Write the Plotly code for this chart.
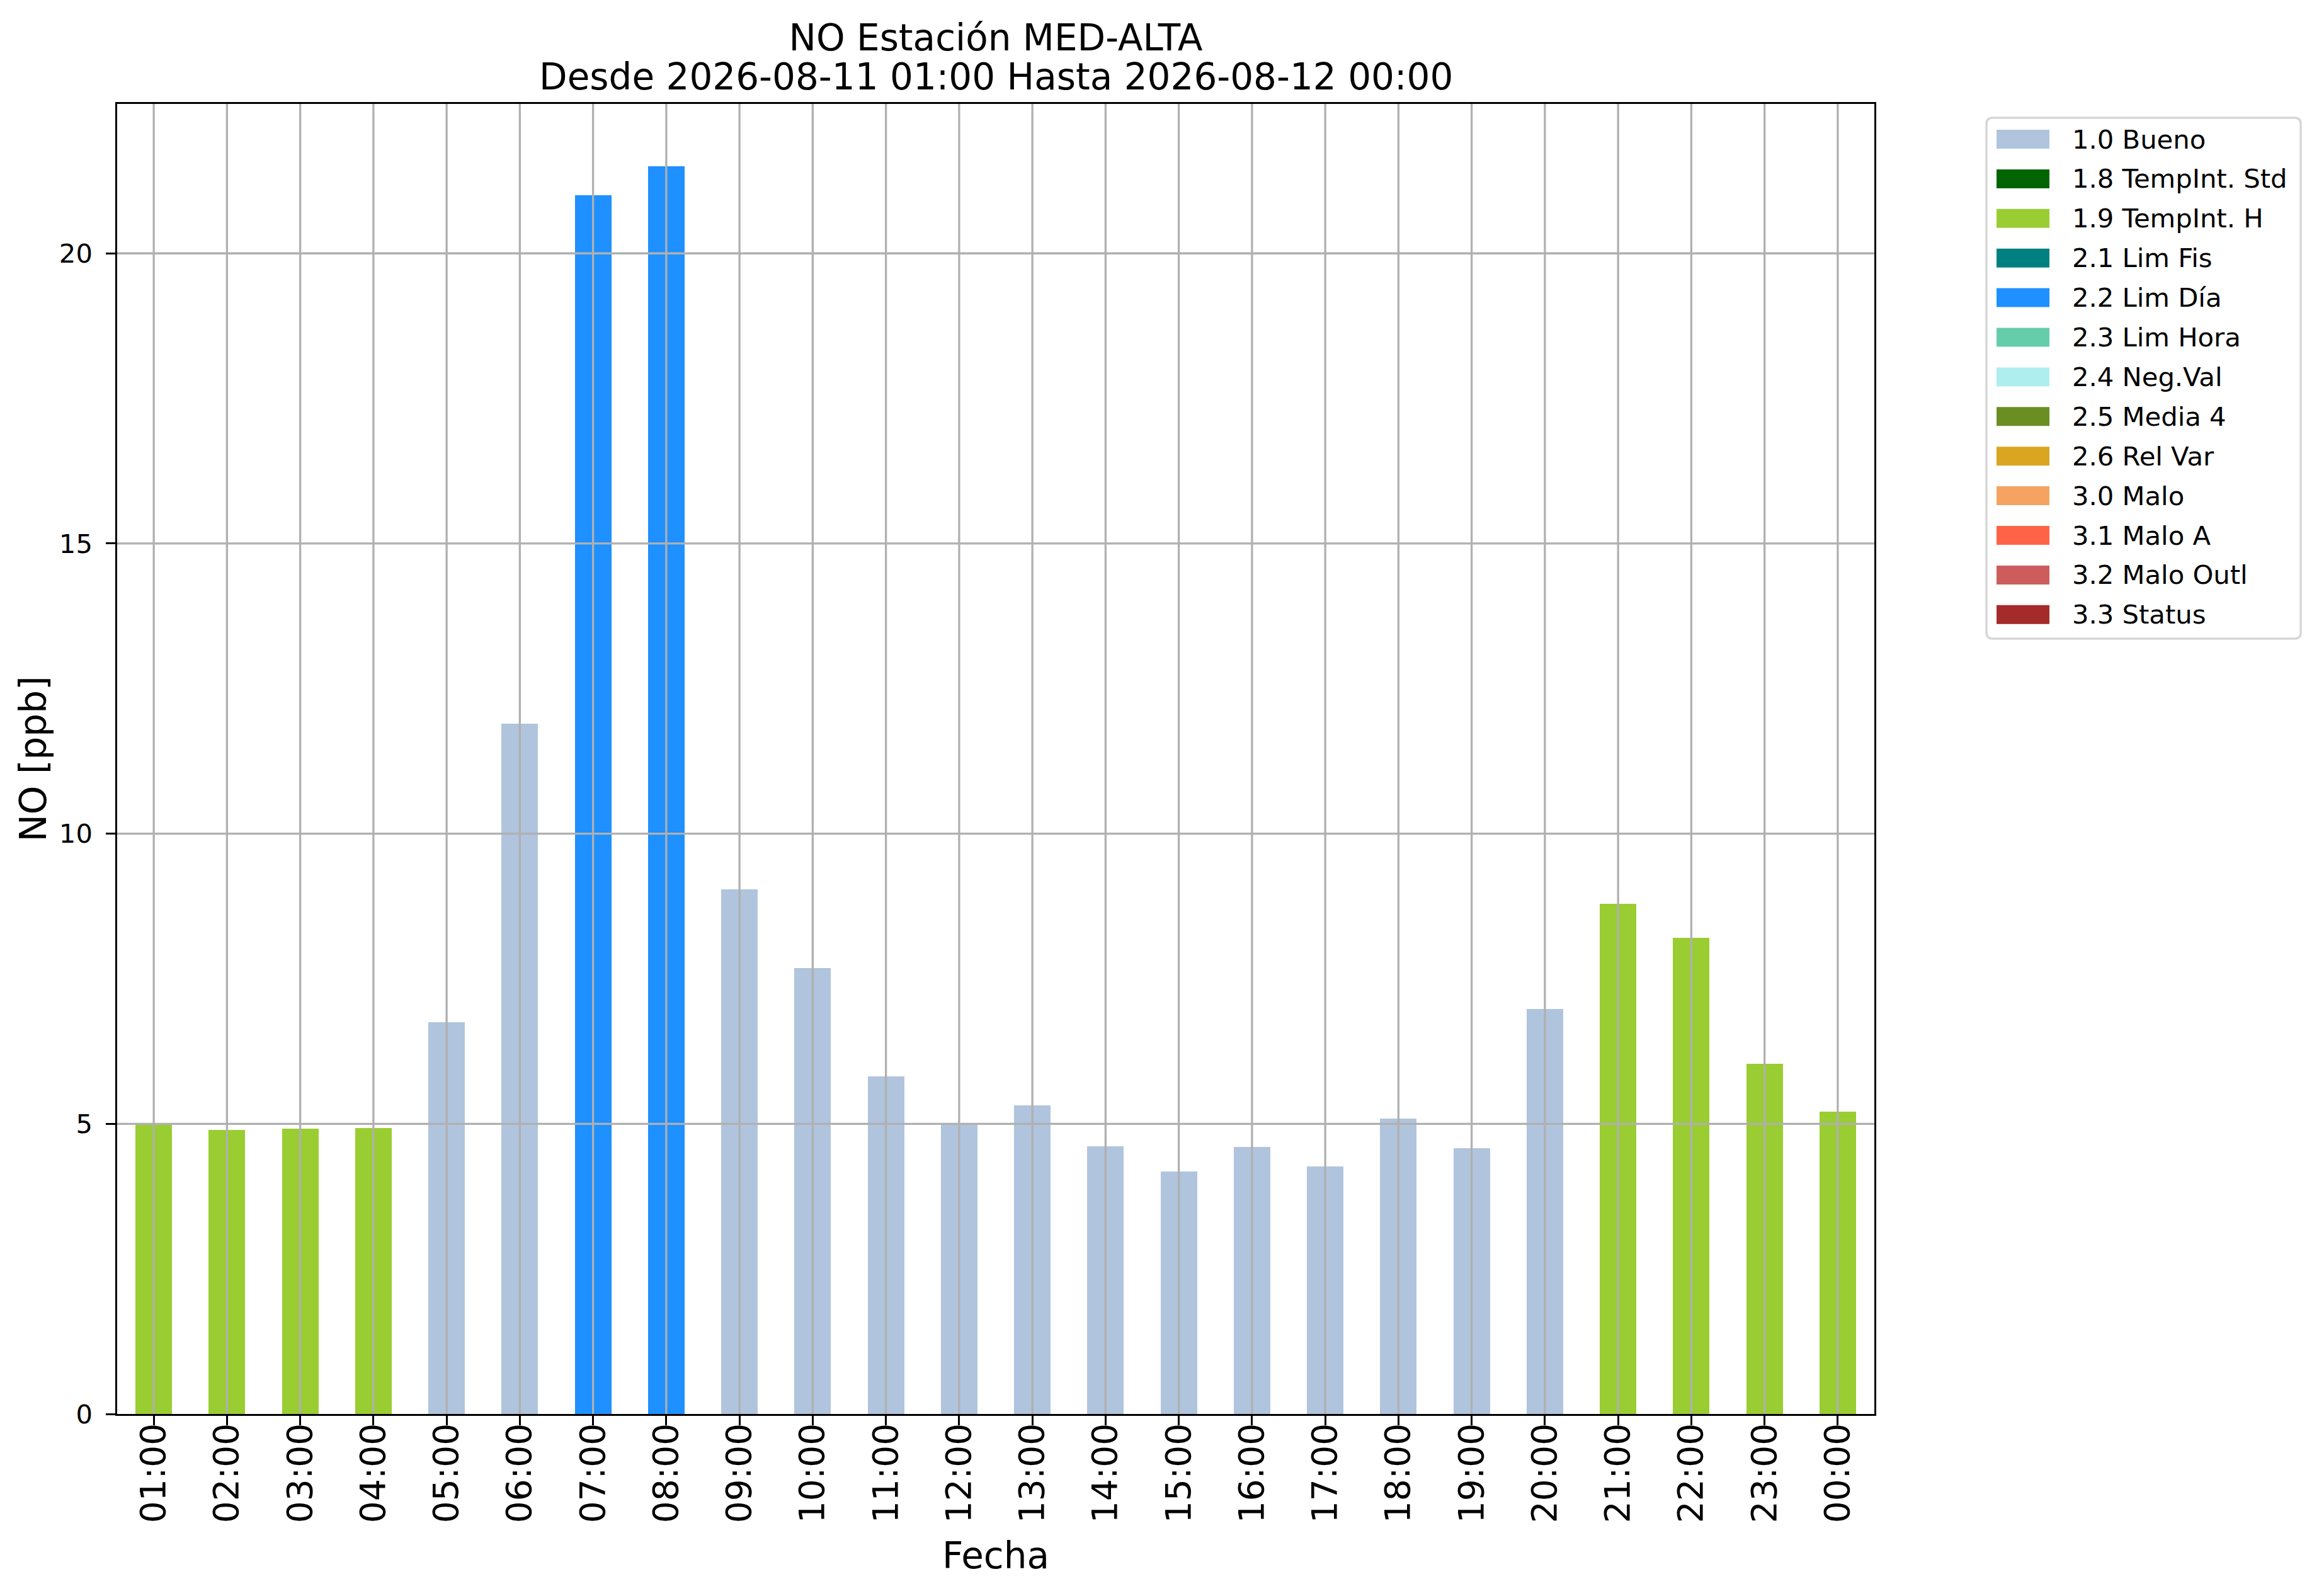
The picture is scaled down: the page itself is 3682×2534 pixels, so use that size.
import plotly.graph_objects as go

# ---------------- data ----------------
hours = ["01:00", "02:00", "03:00", "04:00", "05:00", "06:00", "07:00", "08:00",
         "09:00", "10:00", "11:00", "12:00", "13:00", "14:00", "15:00", "16:00",
         "17:00", "18:00", "19:00", "20:00", "21:00", "22:00", "23:00", "00:00"]
no_ppb = [5.00, 4.89, 4.92, 4.93, 6.75, 11.89, 21.0, 21.5,
          9.04, 7.68, 5.82, 5.00, 5.32, 4.61, 4.18, 4.60,
          4.27, 5.09, 4.58, 6.98, 8.79, 8.20, 6.03, 5.21]
flag_code = ["1.9", "1.9", "1.9", "1.9", "1.0", "1.0", "2.2", "2.2",
             "1.0", "1.0", "1.0", "1.0", "1.0", "1.0", "1.0", "1.0",
             "1.0", "1.0", "1.0", "1.0", "1.9", "1.9", "1.9", "1.9"]
cat_codes = ["1.0", "1.8", "1.9", "2.1", "2.2", "2.3", "2.4", "2.5", "2.6",
             "3.0", "3.1", "3.2", "3.3"]
cat_names = ["Bueno", "TempInt. Std", "TempInt. H", "Lim Fis", "Lim Día", "Lim Hora",
             "Neg.Val", "Media 4", "Rel Var", "Malo", "Malo A", "Malo Outl", "Status"]
cat_colors = ["#B0C4DE", "#006400", "#9ACD32", "#008080", "#1E90FF", "#66CDAA",
              "#AFEEEE", "#6B8E23", "#DAA520", "#F4A460", "#FF6347", "#CD5C5C", "#A52A2A"]
y_ticks = [0, 5, 10, 15, 20]

title_line1 = "NO Estación MED-ALTA"
title_line2 = "Desde 2026-08-11 01:00 Hasta 2026-08-12 00:00"

# ---------------- layout geometry (page pixels) ----------------
PAGE_W, PAGE_H = 3682, 2534
OFF = 8                      # default body margin of the html page
W, H = PAGE_W - 2 * OFF, PAGE_H - 2 * OFF
L, R, T, B = 186, 2976, 165, 2245
PW, PH = R - L, B - T
FONT = "DejaVu Sans"


def px(xp):
    return (xp - L) / PW


def py(yp):
    return (B - yp) / PH


fig = go.Figure()
for code, name, color in zip(cat_codes, cat_names, cat_colors):
    yvals = [v if f == code else 0 for v, f in zip(no_ppb, flag_code)]
    fig.add_trace(go.Bar(
        x=hours, y=yvals, name=f"{code} {name}",
        marker=dict(color=color, line=dict(width=0)),
        width=0.5, showlegend=False,
    ))

shapes = []
# grid lines drawn above the bars (as in the reference)
for i in range(len(hours)):
    shapes.append(dict(type="line", xref="x", yref="paper", x0=i, x1=i, y0=0, y1=1,
                       line=dict(color="#b0b0b0", width=3.3), layer="above"))
for t in y_ticks[1:]:
    shapes.append(dict(type="line", xref="paper", yref="y", x0=0, x1=1, y0=t, y1=t,
                       line=dict(color="#b0b0b0", width=3.3), layer="above"))

# custom legend (matplotlib style)
lx0, lx1, ly0, ly1 = 3154, 3653, 187, 1014
rr = 10
path = (f"M {px(lx0 + rr)},{py(ly0)} L {px(lx1 - rr)},{py(ly0)} "
        f"Q {px(lx1)},{py(ly0)} {px(lx1)},{py(ly0 + rr)} "
        f"L {px(lx1)},{py(ly1 - rr)} Q {px(lx1)},{py(ly1)} {px(lx1 - rr)},{py(ly1)} "
        f"L {px(lx0 + rr)},{py(ly1)} Q {px(lx0)},{py(ly1)} {px(lx0)},{py(ly1 - rr)} "
        f"L {px(lx0)},{py(ly0 + rr)} Q {px(lx0)},{py(ly0)} {px(lx0 + rr)},{py(ly0)} Z")
shapes.append(dict(type="path", xref="paper", yref="paper", path=path,
                   line=dict(color="#d6d6d6", width=3.5), fillcolor="white", layer="above"))

annotations = []
for k, (code, name, color) in enumerate(zip(cat_codes, cat_names, cat_colors)):
    cy = 221 + k * 62.9
    shapes.append(dict(type="rect", xref="paper", yref="paper",
                       x0=px(3170), x1=px(3254), y0=py(cy - 15), y1=py(cy + 15),
                       fillcolor=color, line=dict(width=0), layer="above"))
    annotations.append(dict(xref="paper", yref="paper", x=px(3288), y=py(cy),
                            xanchor="left", yanchor="middle", showarrow=False,
                            text=f"{code} {name}",
                            font=dict(family=FONT, size=41.7, color="black")))

# second title line
annotations.append(dict(xref="paper", yref="paper", x=0.5, y=py(122),
                        xanchor="center", yanchor="middle", showarrow=False,
                        text=title_line2, font=dict(family=FONT, size=58, color="black")))

fig.update_layout(
    width=W, height=H,
    margin=dict(l=L - OFF, r=W - (R - OFF), t=T - OFF, b=H - (B - OFF), autoexpand=False),
    paper_bgcolor="white", plot_bgcolor="white",
    barmode="stack", bargap=0,
    font=dict(family=FONT, color="black"),
    title=dict(text=title_line1, x=0.5, xref="paper", xanchor="center",
               y=1 - (59.5 - OFF) / H, yref="container", yanchor="middle",
               font=dict(family=FONT, size=58, color="black")),
    shapes=shapes, annotations=annotations,
    showlegend=False,
)
fig.update_xaxes(
    type="category", range=[-0.5, len(hours) - 0.5],
    showgrid=False, showline=True, linecolor="black", linewidth=3.3, mirror=True,
    ticks="outside", ticklen=14.6, tickwidth=3.3, tickcolor="black",
    tickangle=-90, tickfont=dict(family=FONT, size=55, color="black"),
    ticklabelstandoff=-25,
    title=dict(text="Fecha", font=dict(family=FONT, size=58, color="black"), standoff=33),
    zeroline=False, layer="above traces",
)
fig.update_yaxes(
    range=[0, 22.575], tickmode="array", tickvals=y_ticks,
    showgrid=False, showline=True, linecolor="black", linewidth=3.3, mirror=True,
    ticks="outside", ticklen=14.6, tickwidth=3.3, tickcolor="black",
    tickfont=dict(family=FONT, size=41.7, color="black"),
    ticklabelstandoff=13,
    title=dict(text="NO [ppb]", font=dict(family=FONT, size=58, color="black"), standoff=2),
    zeroline=False, layer="above traces",
)

fig.write_html("out.html")
